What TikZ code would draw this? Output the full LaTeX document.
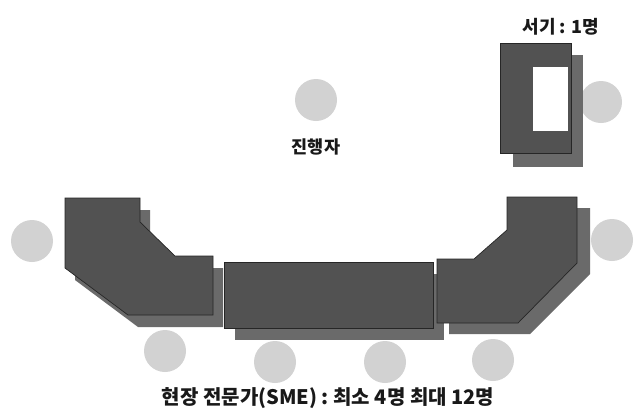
\documentclass[tikz,border=0pt]{standalone}
\usepackage{fontspec}
\newfontfamily\krb{Noto Sans CJK KR}
\definecolor{deskc}{RGB}{82,82,82}
\definecolor{shadc}{RGB}{106,106,106}
\definecolor{seatc}{RGB}{210,210,210}
\definecolor{txtc}{RGB}{25,25,25}
\tikzset{
  desk/.style={fill=deskc, draw=black!85, line width=0.7pt, line join=miter},
  deskshadow/.style={fill=shadc},
  seat/.style={circle, fill=seatc, minimum size=42pt, inner sep=0pt},
  lbl/.style={text=txtc, inner sep=0pt}
}
\begin{document}
\begin{tikzpicture}[x=1pt,y=-1pt]
\useasboundingbox (0,0) rectangle (636,416);
\fill[white] (0,0) rectangle (636,416);
% seats
\node[seat] (mod) at (316,100) {};
\node[seat] (sec) at (601,102) {};
\node[seat] (sl) at (32,241) {};
\node[seat] (sr) at (612,240) {};
\node[seat] (b1) at (165,351) {};
\node[seat] (b2) at (275,362) {};
\node[seat] (b3) at (385,362) {};
\node[seat] (b4) at (493,360) {};
% shadows
\fill[deskshadow] (513,55) rectangle (583,167);
\fill[deskshadow] (75,210) -- (150,210) -- (150,234) -- (185,268) -- (223,268) -- (223,327) -- (138,327) -- (75,280) -- cycle;
\fill[deskshadow] (235,274) rectangle (444,340);
\fill[deskshadow] (449,270) -- (486,270) -- (519,241) -- (519,208) -- (590,208) -- (590,274) -- (530,334) -- (449,334) -- cycle;
% desks
\draw[desk] (500,43) rectangle (571,153);
\fill[white] (533,67) rectangle (568,131);
\draw[desk] (65,198) -- (140,198) -- (140,222) -- (175,256) -- (213,256) -- (213,315) -- (128,315) -- (65,268) -- cycle;
\draw[desk] (224,262) rectangle (433,328);
\draw[desk] (437,259) -- (474,259) -- (507,230) -- (507,197) -- (577,197) -- (577,263) -- (518,323) -- (437,323) -- cycle;
% labels
\node[lbl, font=\krb\bfseries\fontsize{18}{20}\selectfont] (tsec) at (561,27) {서기 : 1명};
\node[lbl, font=\krb\bfseries\fontsize{17.5}{20}\selectfont] (tmod) at (316,147) {진행자};
\node[lbl, font=\krb\bfseries\fontsize{20}{22}\selectfont] (tsme) at (328,398) {현장 전문가(SME) : 최소 4명 최대 12명};
\end{tikzpicture}
\end{document}
